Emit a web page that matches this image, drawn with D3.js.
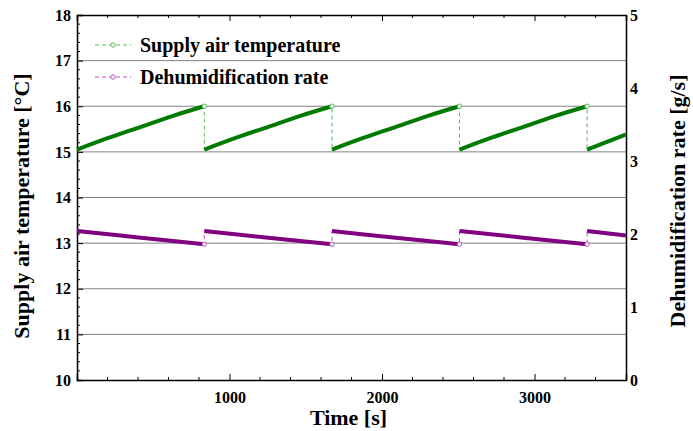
<!DOCTYPE html>
<html>
<head>
<meta charset="utf-8">
<script src="https://cdn.jsdelivr.net/npm/d3@7"></script>
<style>
  body { margin: 0; background: #fff; }
  text { font-family: "Liberation Serif", "Times New Roman", serif; font-weight: bold; fill: #000; }
</style>
</head>
<body>
<svg width="693" height="431"></svg>
<script>
// data
const supplyTime = [0, 210, 420, 630, 835, 835, 1045, 1255, 1465, 1672, 1672, 1882, 2092, 2302, 2508, 2508, 2718, 2928, 3138, 3345, 3345, 3475, 3600]
const supplyTemp = [15.05, 15.31, 15.55, 15.79, 16.0, 15.05, 15.31, 15.55, 15.79, 16.0, 15.05, 15.31, 15.55, 15.79, 16.0, 15.05, 15.31, 15.55, 15.79, 16.0, 15.05, 15.22, 15.38]
const dehumTime = [0, 418, 835, 835, 1254, 1672, 1672, 2090, 2508, 2508, 2927, 3345, 3345, 3600]
const dehumRate = [2.04, 1.95, 1.86, 2.04, 1.95, 1.86, 2.04, 1.95, 1.86, 2.04, 1.95, 1.86, 2.04, 1.98]
const xTicks = [1000, 2000, 3000]
const leftTicks = [10, 11, 12, 13, 14, 15, 16, 17, 18]
const rightTicks = [0, 1, 2, 3, 4, 5]
const seriesNames = ["Supply air temperature", "Dehumidification rate"]

const margin = { top: 15, right: 67, bottom: 51, left: 77 }
const width = 693 - margin.left - margin.right
const height = 431 - margin.top - margin.bottom

const svg = d3.select("svg")
const g = svg.append("g").attr("transform", "translate(" + margin.left + "," + margin.top + ")")

const x = d3.scaleLinear().domain([0, 3600]).range([0, width])
const yL = d3.scaleLinear().domain([10, 18]).range([height, 0])
const yR = d3.scaleLinear().domain([0, 5]).range([height, 0])

// grid
g.append("g").selectAll("line")
  .data(leftTicks.slice(1, -1))
  .join("line")
  .attr("x1", 0).attr("x2", width)
  .attr("y1", d => yL(d)).attr("y2", d => yL(d))
  .attr("stroke", "#808080").attr("stroke-width", 1)

// axes with inward ticks
const minorX = d3.range(200, 3600, 200).filter(d => d % 1000 != 0)

const bottomAxis = g.append("g").attr("transform", "translate(0," + height + ")")
  .call(d3.axisBottom(x).tickValues(xTicks).tickSize(-6).tickPadding(12).tickFormat(d3.format("d")))
bottomAxis.append("g").selectAll("line")
  .data(minorX)
  .join("line")
  .attr("x1", d => x(d)).attr("x2", d => x(d)).attr("y1", 0).attr("y2", -3)
  .attr("stroke", "#000")

const topAxis = g.append("g")
  .call(d3.axisTop(x).tickValues(xTicks).tickSize(-6).tickFormat(""))
topAxis.append("g").selectAll("line")
  .data(minorX)
  .join("line")
  .attr("x1", d => x(d)).attr("x2", d => x(d)).attr("y1", 0).attr("y2", 3)
  .attr("stroke", "#000")

const leftAxis = g.append("g")
  .call(d3.axisLeft(yL).tickValues(leftTicks).tickSize(-6).tickPadding(6).tickFormat(d3.format("d")))
leftAxis.append("g").selectAll("line")
  .data(d3.range(10.2, 18, 0.2).filter(d => Math.abs(d - Math.round(d)) > 0.01))
  .join("line")
  .attr("x1", 0).attr("x2", 3).attr("y1", d => yL(d)).attr("y2", d => yL(d))
  .attr("stroke", "#000")

const rightAxis = g.append("g").attr("transform", "translate(" + width + ",0)")
  .call(d3.axisRight(yR).tickValues(rightTicks).tickSize(0).tickPadding(4).tickFormat(d3.format("d")))

g.selectAll(".domain").attr("stroke", "#000").attr("stroke-width", 1.5)
g.selectAll(".tick text").style("font-size", "16px")
g.selectAll(".tick line").attr("stroke", "#000")

// series
const supply = supplyTime.map((t, i) => ({ t: t, v: supplyTemp[i] }))
const dehum = dehumTime.map((t, i) => ({ t: t, v: dehumRate[i] }))

// break the series where two points share a time (the vertical jumps)
function splitSegments(pts) {
  let segs = [[pts[0]]]
  for (let i = 1; i < pts.length; i++) {
    if (pts[i].t == pts[i - 1].t) segs.push([pts[i]])
    else segs[segs.length - 1].push(pts[i])
  }
  return segs
}
function jumpPoints(pts) {
  return pts.filter((p, i) => i < pts.length - 1 && pts[i + 1].t == p.t)
}

function drawSeries(pts, yscale, dark, light) {
  const thin = d3.line().x(d => x(d.t)).y(d => yscale(d.v))
  g.append("path").datum(pts)
    .attr("d", thin).attr("fill", "none")
    .attr("stroke", light).attr("stroke-width", 1).attr("stroke-dasharray", "4,3")
  const thick = d3.line().x(d => x(d.t)).y(d => yscale(d.v)).curve(d3.curveMonotoneX)
  g.append("g").selectAll("path")
    .data(splitSegments(pts))
    .join("path")
    .attr("d", thick).attr("fill", "none")
    .attr("stroke", dark).attr("stroke-width", 4)
  g.append("g").selectAll("circle")
    .data(jumpPoints(pts))
    .join("circle")
    .attr("cx", d => x(d.t)).attr("cy", d => yscale(d.v)).attr("r", 2.2)
    .attr("fill", "#fff").attr("stroke", light).attr("stroke-width", 1)
}

drawSeries(supply, yL, "#007a00", "#55bb55")
drawSeries(dehum, yR, "#800080", "#bb55bb")

// legend
const legendColors = ["#55bb55", "#bb55bb"]
const legend = g.append("g").attr("transform", "translate(18,30)")
seriesNames.forEach((name, i) => {
  const row = legend.append("g").attr("transform", "translate(0," + (i * 32) + ")")
  row.append("line").attr("x1", 0).attr("x2", 36).attr("y1", 0).attr("y2", 0)
    .attr("stroke", legendColors[i]).attr("stroke-dasharray", "4,3")
  row.append("circle").attr("cx", 18).attr("cy", 0).attr("r", 2.2)
    .attr("fill", "#fff").attr("stroke", legendColors[i])
  row.append("text").attr("x", 45).attr("y", 7).style("font-size", "20px").text(name)
})

// axis titles
svg.append("text")
  .attr("x", margin.left + width / 2 - 3).attr("y", 425)
  .attr("text-anchor", "middle").style("font-size", "22px")
  .text("Time [s]")
svg.append("text")
  .attr("transform", "translate(29,206) rotate(-90)")
  .attr("text-anchor", "middle").style("font-size", "22px")
  .text("Supply air temperature [°C]")
svg.append("text")
  .attr("transform", "translate(685,201) rotate(-90)")
  .attr("text-anchor", "middle").style("font-size", "22px")
  .text("Dehumidification rate [g/s]")
</script>
</body>
</html>
